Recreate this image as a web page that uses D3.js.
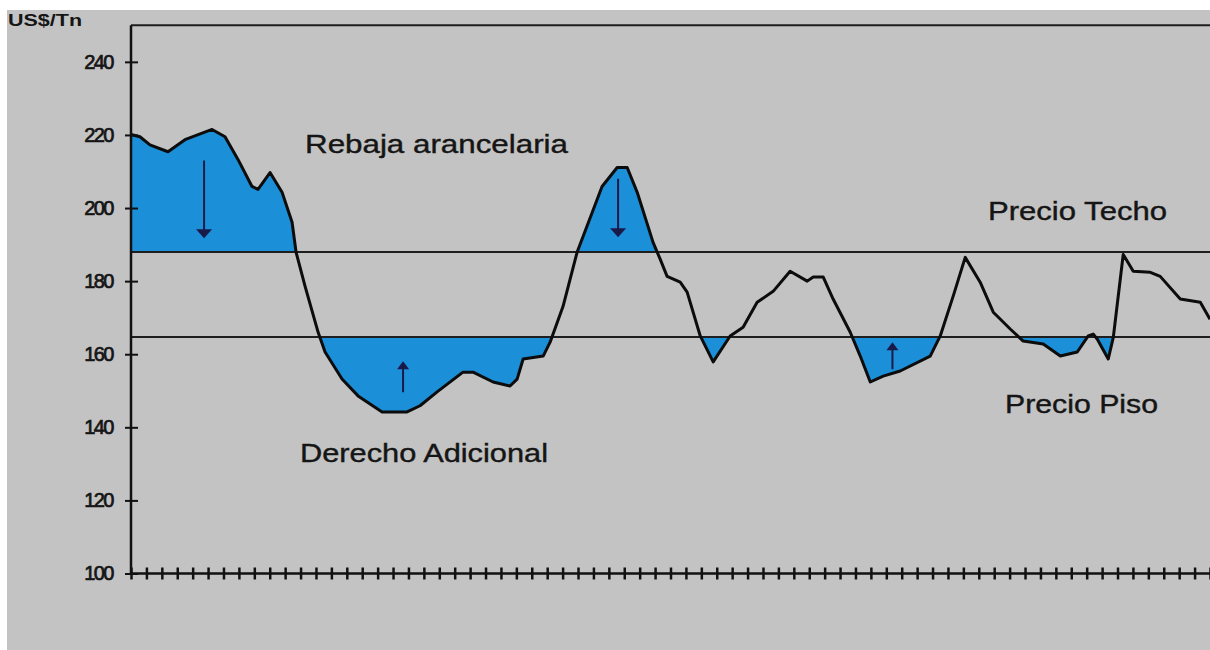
<!DOCTYPE html>
<html>
<head>
<meta charset="utf-8">
<script src="https://cdn.jsdelivr.net/npm/d3@7"></script>
<style>
  html, body { margin: 0; padding: 0; background: #ffffff; }
  svg { display: block; }
  text { font-family: "Liberation Sans", Arial, sans-serif; fill: #151515; }
</style>
</head>
<body>
<svg id="chart" width="1210" height="650"></svg>
<script>
// Period index along the x axis (one tick per period) and price in US$/Tn
const periods = [
  0, 0.58, 1.23, 2.40, 3.50, 5.26, 6.10, 6.94, 7.85, 8.24,
  9.02, 9.80, 10.45, 10.71, 11.29, 12.14, 12.59, 13.69, 14.73, 16.29,
  17.91, 18.75, 19.86, 21.54, 22.19, 23.49, 24.59, 25.05, 25.44, 26.74,
  27.19, 28.03, 28.94, 30.56, 31.54, 32.19, 32.84, 33.87, 34.33, 34.78,
  35.63, 36.08, 36.93, 37.77, 38.87, 39.71, 40.62, 41.66, 42.76, 43.87,
  44.26, 44.91, 45.55, 46.66, 47.31, 47.96, 48.80, 49.90, 51.85, 52.50,
  53.34, 54.12, 55.09, 55.94, 57.04, 57.88, 59.18, 60.29, 61.39, 62.10,
  62.43, 62.69, 63.40, 63.73, 64.37, 65.02, 66.13, 66.77, 68.07, 69.37,
  70.00
];
const prices = [
  220.1, 219.5, 217.3, 215.4, 218.7, 221.5, 219.5, 213.3, 205.9, 205.1,
  209.7, 204.3, 196.1, 187.9, 178.6, 166.0, 160.6, 153.2, 148.6, 144.2,
  144.2, 145.9, 149.7, 155.1, 155.1, 152.4, 151.3, 153.2, 158.7, 159.5,
  163.3, 173.1, 187.9, 205.9, 211.1, 211.1, 204.3, 190.6, 186.0, 181.3,
  179.7, 177.0, 165.0, 157.9, 165.0, 167.4, 174.2, 177.2, 182.7, 180.0,
  181.1, 181.1, 175.1, 166.0, 159.5, 152.4, 154.0, 155.4, 159.5, 165.0,
  175.9, 186.5, 179.7, 171.5, 166.9, 163.6, 162.8, 159.5, 160.6, 165.0,
  165.5, 164.1, 158.7, 164.7, 187.3, 182.7, 182.4, 181.3, 175.1, 174.2,
  169.6
];

// Band limits
const precioTecho = 188;
const precioPiso = 164.7;

// Axis ticks
const yTickValues = [100, 120, 140, 160, 180, 200, 220, 240];
const xTickValues = d3.range(0, 71);

// Vertical arrows: [period, from value, to value]
const arrowPeriods = [4.74, 17.65, 31.6, 49.4];
const arrowFrom = [213.0, 149.6, 208.0, 155.9];
const arrowTo = [191.7, 158.1, 192.0, 163.3];

// Text labels
const yAxisTitle = "US$/Tn";
const labelTexts = ["Rebaja arancelaria", "Precio Techo", "Derecho Adicional", "Precio Piso"];

const data = periods.map((p, i) => ({ p, v: prices[i] }));

const svg = d3.select("#chart");
const W = 1210, H = 650;
const plot = { left: 131, right: 1210, top: 25.3, bottom: 573.5 };

const x = d3.scaleLinear().domain([0, 70]).range([plot.left, plot.right]);
const y = d3.scaleLinear().domain([100, 250]).range([plot.bottom, plot.top]);

// Gray panel
svg.append("rect")
  .attr("x", 7).attr("y", 10)
  .attr("width", W - 7).attr("height", H - 10)
  .attr("fill", "#c3c3c3");

const defs = svg.append("defs");
defs.append("clipPath").attr("id", "aboveTecho")
  .append("rect")
  .attr("x", plot.left).attr("y", 0)
  .attr("width", plot.right - plot.left).attr("height", y(precioTecho));
defs.append("clipPath").attr("id", "belowPiso")
  .append("rect")
  .attr("x", plot.left).attr("y", y(precioPiso))
  .attr("width", plot.right - plot.left).attr("height", plot.bottom - y(precioPiso));

const fillBlue = "#1b8fd8";

// Areas beyond the band
svg.append("path")
  .datum(data)
  .attr("clip-path", "url(#aboveTecho)")
  .attr("fill", fillBlue)
  .attr("d", d3.area().x(d => x(d.p)).y0(y(precioTecho)).y1(d => y(d.v)));

svg.append("path")
  .datum(data)
  .attr("clip-path", "url(#belowPiso)")
  .attr("fill", fillBlue)
  .attr("d", d3.area().x(d => x(d.p)).y0(y(precioPiso)).y1(d => y(d.v)));

// Band limit lines
[precioTecho, precioPiso].forEach(v => {
  svg.append("line")
    .attr("x1", plot.left).attr("x2", plot.right)
    .attr("y1", y(v)).attr("y2", y(v))
    .attr("stroke", "#1e1e1e").attr("stroke-width", 2);
});

// Top frame line
svg.append("line")
  .attr("x1", plot.left).attr("x2", plot.right)
  .attr("y1", plot.top).attr("y2", plot.top)
  .attr("stroke", "#1e1e1e").attr("stroke-width", 2);

// Price line
svg.append("path")
  .datum(data)
  .attr("fill", "none")
  .attr("stroke", "#0c0c0c")
  .attr("stroke-width", 3)
  .attr("stroke-linejoin", "round")
  .attr("d", d3.line().x(d => x(d.p)).y(d => y(d.v)));

// Arrows
const arrowColor = "#1a1a48";
arrowPeriods.forEach((p, i) => {
  const ax = x(p), y1 = y(arrowFrom[i]), y2 = y(arrowTo[i]);
  const dir = y2 > y1 ? 1 : -1;
  const hw = i % 2 === 0 ? 8 : 6, hl = i % 2 === 0 ? 9 : 8;
  svg.append("line")
    .attr("x1", ax).attr("x2", ax)
    .attr("y1", y1).attr("y2", y2 - dir * hl * 0.5)
    .attr("stroke", arrowColor).attr("stroke-width", 2);
  svg.append("path")
    .attr("fill", arrowColor)
    .attr("d", `M${ax - hw},${y2 - dir * hl}L${ax + hw},${y2 - dir * hl}L${ax},${y2}Z`);
});

// Y axis
const yAxis = svg.append("g")
  .attr("transform", `translate(${plot.left},0)`)
  .call(d3.axisLeft(y).tickValues(yTickValues).tickSize(6).tickPadding(12).tickFormat(d3.format("d")));
yAxis.select(".domain")
  .attr("d", `M0,${plot.top}V${plot.bottom}`)
  .attr("stroke", "#111").attr("stroke-width", 2.5);
yAxis.selectAll(".tick line")
  .attr("x1", -6).attr("x2", 7)
  .attr("stroke", "#111").attr("stroke-width", 2);
yAxis.selectAll(".tick text")
  .attr("font-size", 20)
  .attr("letter-spacing", -1.5)
  .attr("fill", "#151515")
  .attr("stroke", "#151515")
  .attr("stroke-width", 0.7)
  .style("font-family", "'Liberation Sans', Arial, sans-serif");

// X axis
const xAxis = svg.append("g")
  .attr("transform", `translate(0,${plot.bottom})`)
  .call(d3.axisBottom(x).tickValues(xTickValues).tickSize(6).tickFormat(""));
xAxis.select(".domain")
  .attr("d", `M${plot.left},0H${plot.right}`)
  .attr("stroke", "#111").attr("stroke-width", 2.5);
xAxis.selectAll(".tick line")
  .attr("y1", -6).attr("y2", 6)
  .attr("stroke", "#111").attr("stroke-width", 2.5);

// Axis title
svg.append("text")
  .attr("x", 8).attr("y", 26)
  .attr("font-size", 17)
  .attr("font-weight", "bold")
  .attr("textLength", 74).attr("lengthAdjust", "spacingAndGlyphs")
  .text(yAxisTitle);

// Region labels
const labelPos = [
  { x: 305, y: 153, len: 263 },
  { x: 988, y: 220, len: 179 },
  { x: 300, y: 462, len: 248 },
  { x: 1005, y: 413, len: 153 }
];
labelTexts.forEach((t, i) => {
  svg.append("text")
    .attr("x", labelPos[i].x).attr("y", labelPos[i].y)
    .attr("font-size", 26)
    .attr("stroke", "#151515")
    .attr("stroke-width", 0.4)
    .attr("textLength", labelPos[i].len).attr("lengthAdjust", "spacingAndGlyphs")
    .text(t);
});
</script>
</body>
</html>
